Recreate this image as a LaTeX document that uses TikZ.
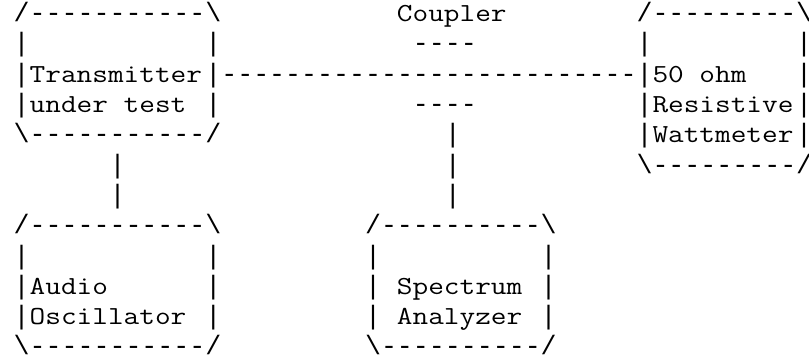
\documentclass[tikz,border=0pt]{standalone}
\usepackage{fontspec}
\newfontfamily\asciifont{Liberation Mono}[Ligatures=TeXOff]
\tikzset{
  seg/.style={anchor=base west, inner sep=0pt, outer sep=0pt,
    font=\asciifont\fontsize{26.62pt}{30.3pt}\selectfont},
  rim/.style={seg, text width=0.3em},
  lbl/.style={anchor=base west, inner sep=0pt, outer sep=0pt,
    xscale=1.17, transform shape,
    font=\ttfamily\fontsize{26pt}{30.3pt}\selectfont}
}
\begin{document}
\begin{tikzpicture}[x=15.97pt, y=-30.3pt]
      \useasboundingbox (-0.858,-0.713) rectangle (49.80,11.234);
      % transmitter
      \draw
        (0,0) node[seg] (tx0){/-----------\textbackslash}
        (0,1) node[seg] (txl1){|}
        (12,1) node[seg] (txr1){|}
        (0,2) node[seg] (txl2){|}
        (1,2) node[lbl] (tx2){Transmitter}
        (12,2) node[seg] (txr2){|}
        (0,3) node[seg] (txl3){|}
        (1,3) node[lbl] (tx3){under test}
        (12,3) node[seg] (txr3){|}
        (0,4) node[seg] (tx4){\textbackslash-----------/};
      % coupler
      \draw
        (24,0) node[lbl] (cpl){Coupler}
        (25,1) node[seg] (cpltop){----}
        (13,2) node[seg] (mainline){--------------------------}
        (25,3) node[seg] (cplbot){----}
        (27,4) node[seg] (tap4){|}
        (27,5) node[seg] (tap5){|}
        (27,6) node[seg] (tap6){|};
      % wattmeter
      \draw
        (39,0) node[seg] (wm0){/---------}
        (49,0) node[rim] (wmr0){\textbackslash}
        (39,1) node[seg] (wml1){|}
        (49,1) node[rim] (wmr1){|}
        (39,2) node[seg] (wml2){|}
        (40,2) node[lbl] (wm2){50 ohm}
        (49,2) node[rim] (wmr2){|}
        (39,3) node[seg] (wml3){|}
        (40,3) node[lbl] (wm3){Resistive}
        (49,3) node[rim] (wmr3){|}
        (39,4) node[seg] (wml4){|}
        (40,4) node[lbl] (wm4){Wattmeter}
        (49,4) node[rim] (wmr4){|}
        (39,5) node[seg] (wm5){\textbackslash---------}
        (49,5) node[rim] (wmr5){/};
      % audio oscillator
      \draw
        (6,5) node[seg] (mod5){|}
        (6,6) node[seg] (mod6){|}
        (0,7) node[seg] (ao7){/-----------\textbackslash}
        (0,8) node[seg] (aol8){|}
        (12,8) node[seg] (aor8){|}
        (0,9) node[seg] (aol9){|}
        (1,9) node[lbl] (ao9){Audio}
        (12,9) node[seg] (aor9){|}
        (0,10) node[seg] (aol10){|}
        (1,10) node[lbl] (ao10){Oscillator}
        (12,10) node[seg] (aor10){|}
        (0,11) node[seg] (ao11){\textbackslash-----------/};
      % spectrum analyzer
      \draw
        (22,7) node[seg] (sa7){/----------\textbackslash}
        (22,8) node[seg] (sal8){|}
        (33,8) node[seg] (sar8){|}
        (22,9) node[seg] (sal9){|}
        (24,9) node[lbl] (sa9){Spectrum}
        (33,9) node[seg] (sar9){|}
        (22,10) node[seg] (sal10){|}
        (24,10) node[lbl] (sa10){Analyzer}
        (33,10) node[seg] (sar10){|}
        (22,11) node[seg] (sa11){\textbackslash----------/};
    \end{tikzpicture}
\end{document}
